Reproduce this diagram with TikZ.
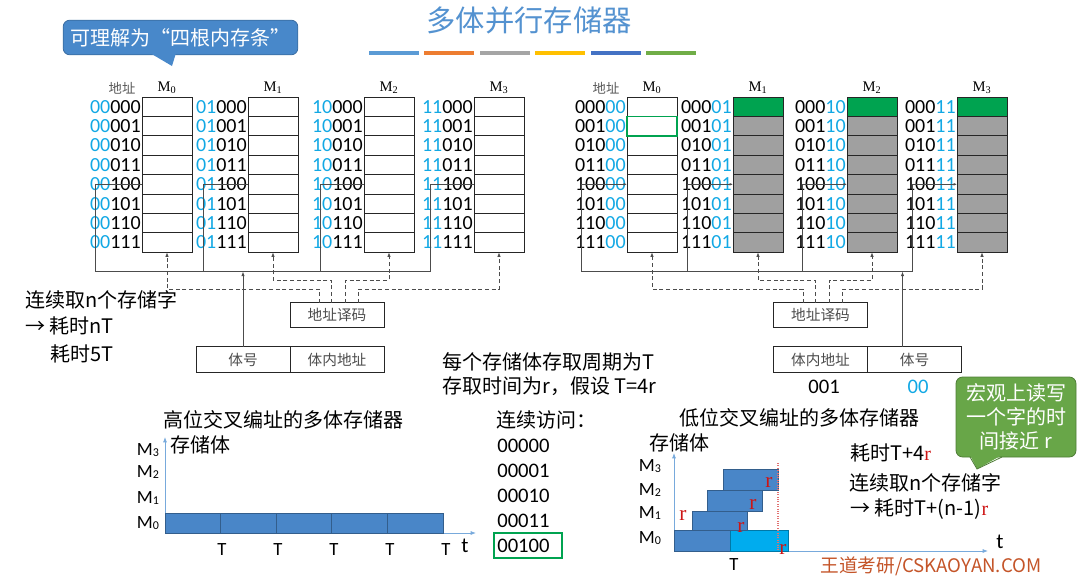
\documentclass[tikz,border=0pt]{standalone}
\usepackage{fontspec}
\setmainfont{Carlito}
\newfontfamily\cjk{Noto Sans CJK SC}
\newfontfamily\serif{Liberation Serif}
\usepackage{tikz}
\usetikzlibrary{arrows.meta,calc,positioning}
\definecolor{titleblue}{RGB}{84,146,208}
\definecolor{addrblue}{RGB}{18,168,228}
\definecolor{calloutblue}{RGB}{72,136,202}
\definecolor{calloutgreen}{RGB}{104,166,72}
\definecolor{cellgray}{RGB}{160,160,160}
\definecolor{cellgreen}{RGB}{0,163,80}
\definecolor{barblue}{RGB}{73,134,200}
\definecolor{barcyan}{RGB}{0,172,238}
\definecolor{axisblue}{RGB}{120,170,220}
\definecolor{markred}{RGB}{205,20,20}
\definecolor{stampbrown}{RGB}{196,84,40}
\definecolor{stripeA}{RGB}{91,155,213}
\definecolor{stripeB}{RGB}{237,125,49}
\definecolor{stripeC}{RGB}{165,165,165}
\definecolor{stripeD}{RGB}{255,192,0}
\definecolor{stripeE}{RGB}{68,114,196}
\definecolor{stripeF}{RGB}{112,173,71}
\newcommand\bankM[1]{M\raisebox{-0.6pt}{\fontsize{9}{9}\selectfont#1}}
\tikzset{
  wire/.style={black!70,line width=0.6pt},
  ctrl/.style={wire,dash pattern=on 3pt off 2pt},
  flow/.style={-{Latex[length=3.5pt,width=2.6pt]}},
  cell/.style={draw=black!85,line width=0.6pt,minimum width=37.5pt,minimum height=14.55pt,
               inner sep=0pt,outer sep=0pt,anchor=north west},
  addr/.style={font=\fontsize{15}{15}\selectfont,inner sep=0pt,anchor=east},
  head/.style={font=\serif\fontsize{11}{11}\selectfont,inner sep=0pt},
  headcn/.style={font=\cjk\fontsize{10}{10}\selectfont,text=black!65,inner sep=0pt},
  reg/.style={draw=black!85,line width=0.6pt,minimum width=70.5pt,minimum height=19pt,inner sep=0pt,
              outer sep=0pt,font=\cjk\fontsize{11}{11}\selectfont,text=black!70},
  say/.style={font=\cjk\fontsize{15}{18}\selectfont,inner sep=0pt,anchor=west},
  num/.style={font=\fontsize{15.5}{15.5}\selectfont,inner sep=0pt,anchor=west},
  bank/.style={font=\fontsize{14}{14}\selectfont,inner sep=0pt},
  axis/.style={axisblue,line width=0.6pt,-{Latex[length=4pt,width=3pt]}},
  bar/.style={draw=barblue!70!black,line width=0.5pt,fill=barblue},
  rmark/.style={font=\serif\fontsize{16}{16}\selectfont,text=markred,inner sep=0pt},
  callout/.style={rounded corners=5pt,line width=0.6pt,text=white,align=center,
                  font=\cjk\fontsize{15}{18}\selectfont},
}

\begin{document}
\begin{tikzpicture}[x=0.75pt,y=-0.75pt]
  \path[use as bounding box] (0,0) rectangle (1078,575);
  \node[font=\cjk\fontsize{22}{22}\selectfont,text=titleblue] (title) at (529,20) {多体并行存储器};
  \foreach \k/\c in {0/stripeA,1/stripeB,2/stripeC,3/stripeD,4/stripeE,5/stripeF}
    \fill[\c] ({369+55.4*\k},51) rectangle +(50,4);

  \node[callout,fill=calloutblue,draw=calloutblue!80!black,minimum width=176pt,minimum height=26pt]
    (hint) at (180.5,37.5) {可理解为“四根内存条”};
  \fill[calloutblue] (150,53) -- (172,66) -- (176,53) -- cycle;

  \node[headcn] (hiaddr) at (122,88) {地址};
  \foreach \bk/\bx/\hib/\wx in {0/142/00/95,1/248/01/203,2/364/10/320,3/474/11/430}{
    \node[head] (him\bk) at (\bx+25,88) {M\textsubscript{\bk}};
    \foreach \i/\bits in {1/000,2/001,3/010,4/011,5/100,6/101,7/110,8/111}{
      \node[cell] (hi\bk r\i) at (\bx,{97+19.4*(\i-1)}) {};
      \node[addr] (hia\bk r\i) at (\bx-1,{97+19.4*(\i-0.5)}) {\textcolor{addrblue}{\hib}\bits};
    }
    \coordinate (hiw\bk) at (\wx,271.5);
    \draw[wire] (hi\bk r5.west) -| (hiw\bk);
  }
  \draw[wire] (hiw0) -- (hiw3);
  \node[reg] (hibank) at (243,359.5) {体号};
  \node[reg,right=0pt of hibank] (hioff) {体内地址};
  \node[reg,above=14.25pt of hioff] (hidec) {地址译码};
  \draw[wire,flow] (hibank.north) -- (hibank.north |- hiw0);
  \coordinate (hiin) at (0,280);
  \coordinate (hiout) at (0,289);
  \draw[ctrl,flow] ($(hidec.north)+(-17.5,0)$) |- (hiout -| hi0r8.south) -- (hi0r8.south);
  \draw[ctrl,flow] ($(hidec.north)+(-5.5,0)$) |- (hiin -| hi1r8.south) -- (hi1r8.south);
  \draw[ctrl,flow] ($(hidec.north)+(8.5,0)$) |- (hiin -| hi2r8.south) -- (hi2r8.south);
  \draw[ctrl,flow] ($(hidec.north)+(21.5,0)$) |- (hiout -| hi3r8.south) -- (hi3r8.south);

  \node[headcn] (loaddr) at (606,88) {地址};
  \foreach \bk/\bx/\lob/\wx in {0/627/00/581,1/733/01/687,2/847/10/802,3/957/11/912}{
    \node[head] (lom\bk) at (\bx+25,88) {M\textsubscript{\bk}};
    \foreach \i/\bits in {1/000,2/001,3/010,4/011,5/100,6/101,7/110,8/111}{
      \ifnum\bk=0 \def\cellfill{white}\else\ifnum\i=1 \def\cellfill{cellgreen}\else\def\cellfill{cellgray}\fi\fi
      \node[cell,fill=\cellfill] (lo\bk r\i) at (\bx,{97+19.4*(\i-1)}) {};
      \node[addr] (loa\bk r\i) at (\bx-1,{97+19.4*(\i-0.5)}) {\bits\textcolor{addrblue}{\lob}};
    }
    \coordinate (low\bk) at (\wx,271.5);
    \draw[wire,-{Latex[length=2.5pt,width=2pt]}] (low\bk) |- (lo\bk r5.west);
  }
  \draw[cellgreen,line width=1.3pt] (lo0r2.north west) rectangle (lo0r2.south east);
  \draw[wire] (low0) -- (low3);
  \node[reg] (looff) at (820.5,359.5) {体内地址};
  \node[reg,right=0pt of looff] (lobank) {体号};
  \node[reg,above=14.25pt of looff] (lodec) {地址译码};
  \coordinate (lotap) at ($(lobank.north)+(-12,0)$);
  \draw[wire,flow] (lotap) -- (lotap |- low0);
  \coordinate (loin) at (0,280);
  \coordinate (loout) at (0,289);
  \draw[ctrl,flow] ($(lodec.north)+(-17.5,0)$) |- (loout -| lo0r8.south) -- (lo0r8.south);
  \draw[ctrl,flow] ($(lodec.north)+(-5.5,0)$) |- (loin -| lo1r8.south) -- (lo1r8.south);
  \draw[ctrl,flow] ($(lodec.north)+(8.5,0)$) |- (loin -| lo2r8.south) -- (lo2r8.south);
  \draw[ctrl,flow] ($(lodec.north)+(21.5,0)$) |- (loout -| lo3r8.south) -- (lo3r8.south);
  \node[num,anchor=center] (lohigh) at (824,387) {001};
  \node[num,anchor=center,text=addrblue] (lolow) at (918,387) {00};

  \node[say] (words) at (25,300) {连续取n个存储字};
  \node[say] (costnT) at (25,326) {→ 耗时nT};
  \node[say] (cost5T) at (50,354) {耗时5T};
  \node[say] (cycle) at (442,362) {每个存储体存取周期为T};
  \node[say] (access) at (442,386) {存取时间为r，假设 T=4r};

  \node[say] (hititle) at (163,420) {高位交叉编址的多体存储器};
  \node[say] (hiunit) at (170,445) {存储体};
  \coordinate (hio) at (165,533);
  \draw[axis] (hio) -- (165,437);
  \draw[axis] (hio) -- (476,533);
  \foreach \k in {0,...,4}{
    \draw[bar] ({165+55.6*\k},513) rectangle +(55.6,20);
    \node[bank] (hiT\k) at ({222+56*\k},550) {T};
  }
  \node[bank,font=\fontsize{16}{16}\selectfont] (hit) at (465,546) {t};
  \foreach \j/\yy in {0/523,1/498,2/472,3/450}
    \node[bank] (hiM\j) at (148,\yy) {\bankM{\j}};

  \node[say] (seq) at (496,420) {连续访问：};
  \foreach \i/\v/\yy in {0/00000/446,1/00001/471,2/00010/496,3/00011/521,4/00100/546}
    \node[num] (seq\i) at (497,\yy) {\v};
  \draw[cellgreen,line width=1.5pt] (494,533) rectangle (562,558);

  \node[say] (lotitle) at (679,418) {低位交叉编址的多体存储器};
  \node[say] (lounit) at (649,443) {存储体};
  \coordinate (loo) at (674,551);
  \draw[axis] (loo) -- (674,453);
  \draw[axis] (loo) -- (988,551);
  \draw[bar] (674,530) rectangle (730,551);
  \draw[bar,fill=barcyan,draw=barcyan!70!black] (730,530) rectangle (788,551);
  \draw[bar] (692,511) rectangle (747,530);
  \draw[bar] (707,490) rectangle (762,511);
  \draw[bar] (723,469) rectangle (778,490);
  \draw[markred!60,densely dotted,line width=0.8pt] (778,463) -- (778,551);
  \foreach \n/\xx/\yy in {1/769/482,2/753/504,3/683/515,4/741/527,5/783/549}
    \node[rmark] (r\n) at (\xx,\yy) {r};
  \foreach \j/\yy in {0/538,1/513,2/490,3/466}
    \node[bank] (loM\j) at (650,\yy) {\bankM{\j}};
  \node[bank] (loT) at (734,565) {T};
  \node[bank,font=\fontsize{16}{16}\selectfont] (lot) at (1000,542) {t};

  \node[say] (cost4r) at (850,453) {耗时T+4{\serif\color{markred}r}};
  \node[say] (nwords) at (849,483) {连续取n个存储字};
  \node[say] (costnr) at (850,509) {→ 耗时T+(n-1){\serif\color{markred}r}};

  \node[callout,fill=calloutgreen,draw=calloutgreen!75!black,minimum width=90pt,minimum height=60pt]
    (macro) at (1016,417) {宏观上读写\\一个字的时\\间接近 r};
  \fill[calloutgreen] (970,455) -- (977,469) -- (1002,455) -- cycle;
  \draw[calloutgreen!75!black,line width=0.6pt] (970,457) -- (977,469) -- (1002,457);

  \node[font=\cjk\fontsize{14}{14}\selectfont,text=stampbrown] (stamp) at (931,566) {王道考研/CSKAOYAN.COM};
\end{tikzpicture}
\end{document}
